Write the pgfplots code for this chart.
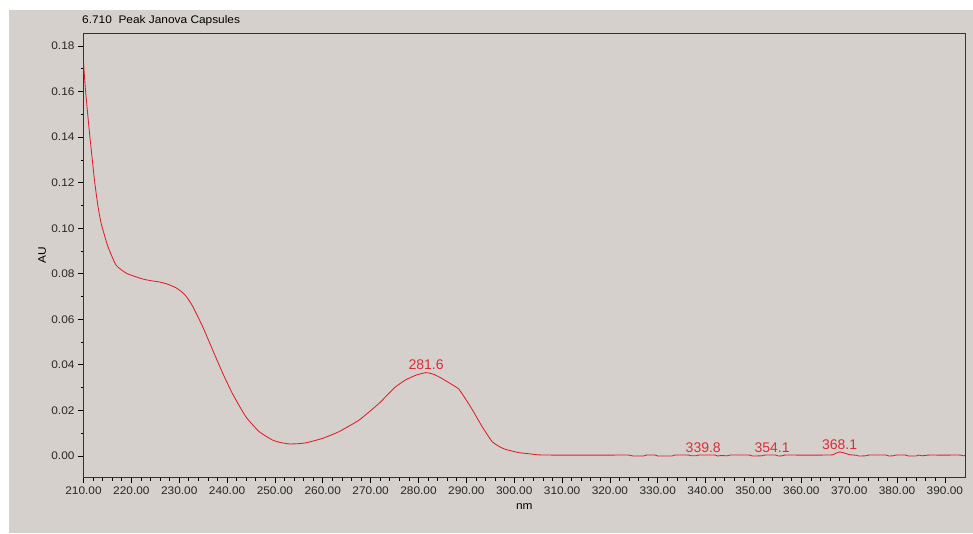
\documentclass[border=0pt]{standalone}
\usepackage{pgfplots}
\pgfplotsset{compat=1.18}
\usepackage{fontspec}
\setmainfont[FakeStretch=1.08]{Liberation Sans}
\newfontfamily\annfont{Liberation Sans}
\definecolor{bg}{RGB}{213,208,204}
\definecolor{spec}{RGB}{222,32,42}
\definecolor{anno}{RGB}{220,45,55}
\definecolor{axc}{RGB}{50,50,50}

\pgfplotstableread{
x y
210.0 0.173
210.4 0.161
211.2 0.143
212.3 0.121
213.0 0.110
213.7 0.102
215.1 0.0920
216.8 0.0838
218.9 0.0803
220.5 0.0790
222.4 0.0777
224.0 0.0770
225.9 0.0764
227.5 0.0755
229.3 0.0739
230.5 0.0721
231.5 0.0700
232.8 0.0658
234.9 0.0568
237.0 0.0465
239.1 0.0363
241.1 0.0275
243.9 0.0173
246.7 0.0107
249.5 0.0070
251.0 0.0060
253.0 0.0053
254.8 0.0054
256.5 0.0058
259.9 0.0077
263.4 0.0107
267.6 0.0158
271.7 0.0230
275.0 0.0300
277.3 0.0334
279.5 0.0355
281.5 0.0366
283.0 0.0360
284.5 0.0345
286.5 0.0320
288.4 0.0294
290.0 0.0245
291.2 0.0205
293.3 0.0129
295.4 0.0063
297.0 0.0040
298.2 0.0029
300.9 0.0015
303.0 0.0010
305.1 0.0005
308.0 0.0004
312.0 0.0004
316.0 0.0004
320.0 0.0004
324.0 0.0004
324.8 0.0000
327.0 0.0000
327.6 0.0004
329.5 0.0004
330.0 0.0000
333.0 0.0000
333.5 0.0004
336.5 0.0004
337.0 0.0001
338.0 0.0001
338.5 0.0004
342.0 0.0004
342.5 0.0000
343.2 0.0002
344.5 0.0001
345.0 0.0004
349.2 0.0004
349.8 0.0000
351.8 0.0001
352.3 0.0004
354.7 0.0004
355.2 0.0000
356.0 0.0001
356.5 0.0004
360.0 0.0004
364.0 0.0004
366.5 0.0005
367.3 0.0013
368.1 0.0018
369.0 0.0013
370.0 0.0006
371.5 0.0003
372.0 0.0000
373.5 0.0001
374.0 0.0004
377.8 0.0004
378.3 0.0000
379.2 0.0001
379.7 0.0004
381.8 0.0004
382.4 0.0000
384.0 0.0000
384.5 0.0004
385.2 0.0001
385.8 0.0002
386.3 0.0004
390.0 0.0004
393.3 0.0004
393.8 0.0001
394.2 0.0002
}\spectrum

\begin{document}
\begin{tikzpicture}[x=1pt,y=1pt]
\fill[white] (0,0) rectangle (973,533);
\fill[bg] (9,0) rectangle (973,523);
\node[anchor=base west,inner sep=0pt,font=\fontsize{11}{13}\selectfont] at (82,509.5) {6.710\ \ Peak Janova Capsules};
\begin{axis}[
  at={(83.5pt,55.3pt)}, anchor=south west,
  scale only axis, width=881.5pt, height=444.4pt,
  xmin=210, xmax=394.2, ymin=-0.00953, ymax=0.1856,
  axis background/.style={fill=bg},
  axis line style={axc, line width=1pt},
  tick align=outside, xtick pos=bottom, ytick pos=left,
  major tick length=5.5pt, minor tick length=3pt,
  tick style={black, line width=0.8pt},
  xtick={210,220,...,390},
  ytick={0,0.02,0.04,0.06,0.08,0.10,0.12,0.14,0.16,0.18},
  minor x tick num=4, minor y tick num=1,
  scaled y ticks=false,
  ticklabel style={font=\fontsize{11}{13}\selectfont, text=black!85},
  xticklabel style={/pgf/number format/.cd, fixed, fixed zerofill, precision=2, assume math mode=true, 1000 sep={}},
  yticklabel style={/pgf/number format/.cd, fixed, fixed zerofill, precision=2, assume math mode=true},
  xlabel={nm}, ylabel={AU},
  every axis x label/.style={at={(axis description cs:0.5,-0.066)}, anchor=center, font=\fontsize{11}{13}\selectfont},
  every axis y label/.style={at={(axis description cs:-0.047,0.5)}, rotate=90, anchor=center, font=\fontsize{11}{13}\selectfont},
  clip=true,
]
\addplot[spec, line width=0.85pt, smooth, tension=0.3] table[x=x,y=y] {\spectrum};
\node[anchor=base, text=anno, font=\annfont\fontsize{14}{16}\selectfont, inner sep=0pt] at (axis cs:281.6,0.0381) {281.6};
\node[anchor=base, text=anno, font=\annfont\fontsize{14}{16}\selectfont, inner sep=0pt] at (axis cs:339.5,0.0016) {339.8};
\node[anchor=base, text=anno, font=\annfont\fontsize{14}{16}\selectfont, inner sep=0pt] at (axis cs:353.9,0.0014) {354.1};
\node[anchor=base, text=anno, font=\annfont\fontsize{14}{16}\selectfont, inner sep=0pt] at (axis cs:368.0,0.0029) {368.1};
\end{axis}
\end{tikzpicture}
\end{document}
